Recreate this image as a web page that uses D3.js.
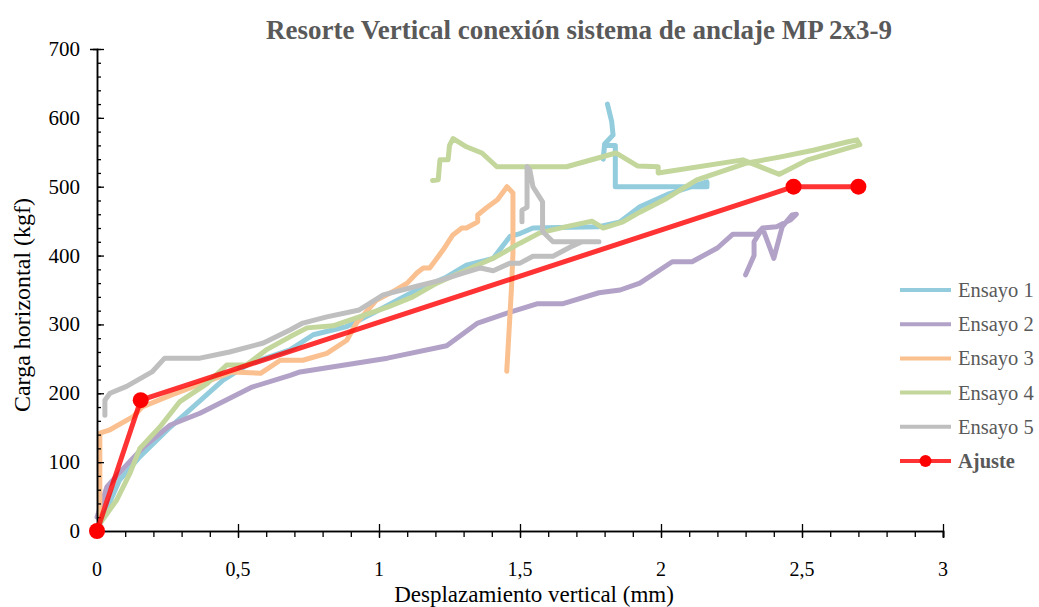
<!DOCTYPE html>
<html>
<head>
<meta charset="utf-8">
<script src="https://cdn.jsdelivr.net/npm/d3@7"></script>
<style>
  body { margin: 0; background: #fff; }
  svg text { font-family: "Liberation Serif", "Times New Roman", serif; }
</style>
</head>
<body>
<svg id="chart" width="1039" height="607"></svg>
<script>
// values: [desplazamiento mm, carga kgf]
const ensayo1 = [[0,0],[0.08,74],[0.152,108],[0.26,151],[0.34,180],[0.447,219],[0.54,243],[0.684,263],
  [0.767,285],[0.886,297],[1.0,321],[1.12,347],[1.24,369],[1.31,386],[1.405,396],[1.465,428],[1.5,432],
  [1.546,440],[1.78,442],[1.855,449],[1.925,471],[2.03,490],[2.163,507],[2.163,500],[1.838,500],
  [1.838,560],[1.80,560],[1.795,540],[1.80,562],[1.83,575],[1.825,595],[1.81,620]];
const ensayo2 = [[0,20],[0.035,64],[0.105,96],[0.165,122],[0.26,154],[0.365,171],[0.55,209],[0.685,226],
  [0.72,231],[1.03,251],[1.24,269],[1.35,302],[1.465,318],[1.56,330],[1.65,330],[1.78,346],[1.855,350],
  [1.925,360],[2.04,391],[2.11,391],[2.2,411],[2.255,431],[2.34,431],[2.36,440],[2.40,396],[2.43,442],
  [2.465,459],[2.48,460],[2.46,452],[2.41,442],[2.36,440],[2.33,420],[2.33,400],[2.30,372]];
const ensayo3 = [[0.01,0],[0.01,142],[0.046,147],[0.128,166],[0.16,180],[0.26,197],[0.48,231],[0.58,229],
  [0.65,248],[0.73,248],[0.815,258],[0.886,277],[0.92,302],[0.99,335],[1.06,350],[1.1,360],[1.135,375],
  [1.157,382],[1.18,382],[1.227,408],[1.262,430],[1.294,440],[1.31,440],[1.35,449],[1.35,459],[1.38,469],
  [1.42,481],[1.454,500],[1.475,491],[1.475,403],[1.47,355],[1.46,282],[1.453,232]];
const ensayo4 = [[0,5],[0.07,45],[0.117,84],[0.152,120],[0.223,151],[0.294,188],[0.39,214],[0.46,241],
  [0.53,241],[0.6,263],[0.684,282],[0.745,295],[0.837,298],[0.93,311],[1.03,325],[1.12,340],[1.205,360],
  [1.31,379],[1.405,396],[1.5,418],[1.57,433],[1.665,442],[1.755,450],[1.795,440],[1.865,449],[1.925,463],
  [2.02,483],[2.127,510],[2.30,534],[2.42,543],[2.54,553],[2.66,565],[2.695,568],[2.705,561],[2.52,539],
  [2.42,518],[2.29,539],[1.99,520],[1.99,529],[1.918,530],[1.84,549],[1.665,529],[1.418,529],[1.365,549],
  [1.31,558],[1.263,570],[1.25,560],[1.245,539],[1.216,539],[1.21,510],[1.19,509]];
const ensayo5 = [[0.028,168],[0.028,190],[0.046,200],[0.105,210],[0.195,231],[0.24,251],[0.365,251],
  [0.47,260],[0.59,273],[0.684,292],[0.73,302],[0.815,311],[0.93,321],[1.015,343],[1.12,354],[1.216,364],
  [1.31,376],[1.36,382],[1.405,378],[1.465,389],[1.5,389],[1.546,399],[1.617,399],[1.677,412],[1.72,420],
  [1.78,420],[1.617,420],[1.58,435],[1.58,478],[1.546,500],[1.535,524],[1.525,529],[1.525,470],[1.507,466],
  [1.507,449]];
const ajuste = [[0,0],[0.155,190],[2.47,500],[2.7,500]];

const seriesNames = ["Ensayo 1", "Ensayo 2", "Ensayo 3", "Ensayo 4", "Ensayo 5"];
const seriesData = [ensayo1, ensayo2, ensayo3, ensayo4, ensayo5];
const seriesColors = ["#93CDDD", "#B3A2C7", "#FAC090", "#C3D69B", "#BFBFBF"];

const xTicks = [0, 0.5, 1, 1.5, 2, 2.5, 3];
const yTicks = [0, 100, 200, 300, 400, 500, 600, 700];

const serif = "Liberation Serif, Times New Roman, serif";
const svg = d3.select("#chart");
const x = d3.scaleLinear().domain([0, 3]).range([97, 943]);
const y = d3.scaleLinear().domain([0, 700]).range([531, 49]);
const fmt = d => String(d).replace(".", ",");

// title
svg.append("text")
  .attr("x", 579).attr("y", 39)
  .attr("text-anchor", "middle")
  .attr("font-weight", "bold")
  .attr("font-size", 27)
  .attr("fill", "#595959")
  .text("Resorte Vertical conexión sistema de anclaje MP 2x3-9");

// series
const line = d3.line().x(d => x(d[0])).y(d => y(d[1]));
seriesData.forEach((s, i) => {
  svg.append("path")
    .attr("d", line(s))
    .attr("fill", "none")
    .attr("stroke", seriesColors[i])
    .attr("stroke-width", 5)
    .attr("stroke-linejoin", "round")
    .attr("stroke-linecap", "round");
});

// axes (minor + major ticks)
const xAxisG = svg.append("g").attr("transform", `translate(0,${y(0)})`);
xAxisG.call(d3.axisBottom(x).tickValues(d3.range(0, 3.001, 0.1)).tickSize(6).tickFormat(""));
xAxisG.append("g").call(d3.axisBottom(x).tickValues(xTicks).tickSize(7).tickFormat(""))
  .selectAll("line").attr("y1", -7);
xAxisG.selectAll(".domain").attr("stroke-width", 1.5);
xAxisG.selectAll("line").attr("stroke-width", 1.3);

const yAxisG = svg.append("g").attr("transform", `translate(${x(0)},0)`);
yAxisG.call(d3.axisLeft(y).tickValues(d3.range(0, 701, 20)).tickSize(4).tickFormat(""))
  .selectAll(".tick line").attr("x2", 4);
yAxisG.append("g").call(d3.axisLeft(y).tickValues(yTicks).tickSize(7).tickFormat(""))
  .selectAll(".tick line").attr("x2", 7);
yAxisG.selectAll(".domain").attr("stroke-width", 1.5);
yAxisG.selectAll("line").attr("stroke-width", 1.3);

// tick labels
svg.selectAll(".xlab").data(xTicks).enter().append("text")
  .attr("class", "xlab")
  .attr("x", d => x(d)).attr("y", 576)
  .attr("text-anchor", "middle")
  .attr("font-family", serif)
  .attr("font-size", 20).attr("fill", "#000")
  .text(fmt);
svg.selectAll(".ylab").data(yTicks).enter().append("text")
  .attr("class", "ylab")
  .attr("x", 80).attr("y", d => y(d) + 7)
  .attr("text-anchor", "end")
  .attr("font-family", serif)
  .attr("font-size", 21).attr("fill", "#000")
  .text(d => d);

// ajuste on top
svg.append("path")
  .attr("d", line(ajuste))
  .attr("fill", "none")
  .attr("stroke", "#FF0000")
  .attr("stroke-opacity", 0.8)
  .attr("stroke-width", 5)
  .attr("stroke-linejoin", "round");
svg.selectAll(".pt").data(ajuste).enter().append("circle")
  .attr("class", "pt")
  .attr("cx", d => x(d[0])).attr("cy", d => y(d[1]))
  .attr("r", 8).attr("fill", "#FF0000");

// axis titles
svg.append("text")
  .attr("x", 534).attr("y", 602)
  .attr("text-anchor", "middle")
  .attr("font-family", serif)
  .attr("font-size", 23).attr("fill", "#000")
  .text("Desplazamiento vertical (mm)");
svg.append("text")
  .attr("transform", "translate(30,305) rotate(-90)")
  .attr("text-anchor", "middle")
  .attr("font-family", serif)
  .attr("font-size", 24).attr("fill", "#000")
  .text("Carga horizontal (kgf)");

// legend
const legendNames = seriesNames.concat(["Ajuste"]);
const legendColors = seriesColors.concat(["#FF0000"]);
const lg = svg.append("g");
legendNames.forEach((n, i) => {
  const ly = 290 + i * 34.2;
  lg.append("line")
    .attr("x1", 900).attr("x2", 951).attr("y1", ly).attr("y2", ly)
    .attr("stroke", legendColors[i])
    .attr("stroke-opacity", i === 5 ? 0.8 : 1)
    .attr("stroke-width", 4);
  if (i === 5) {
    lg.append("circle").attr("cx", 925.5).attr("cy", ly).attr("r", 6).attr("fill", "#FF0000");
  }
  lg.append("text")
    .attr("x", 958).attr("y", ly + 7)
    .attr("font-family", serif)
    .attr("font-size", 20.5)
    .attr("font-weight", i === 5 ? "bold" : "normal")
    .attr("fill", "#595959")
    .text(n);
});
</script>
</body>
</html>
